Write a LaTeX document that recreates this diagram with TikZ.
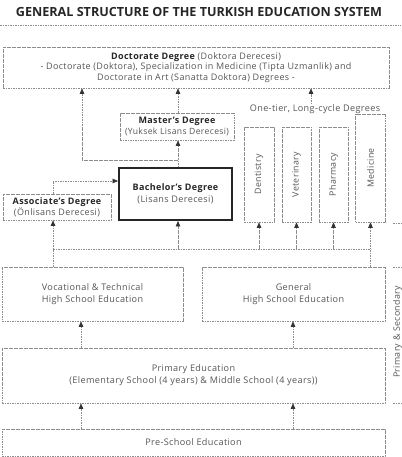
\documentclass[tikz,border=0pt]{standalone}
\usepackage{fontspec}
\usepackage{graphicx}
\setmainfont{Open Sans}[LetterSpace=4]
\usetikzlibrary{arrows.meta}
\definecolor{ln}{HTML}{8C8C8C}
\definecolor{tx}{HTML}{555555}
\newcommand{\hdtext}[1]{{\fontsize{9}{11}\bfseries\selectfont\color{black!85}#1}}
\tikzset{
 box/.style={draw=ln, dash pattern=on 1.6pt off 0.9pt, line width=0.6pt, inner sep=0pt, text=tx, align=center, font=\fontsize{9.1}{12}\selectfont},
 thickbox/.style={draw=black!85, line width=1.8pt, inner sep=0pt, text=tx, align=center, font=\fontsize{9.1}{12}\selectfont},
 con/.style={draw=ln, dash pattern=on 1.6pt off 0.9pt, line width=0.6pt},
 arr/.style={con, -{Triangle[width=4.5pt,length=5.5pt,color=black!80]}},
 plain/.style={text=tx, inner sep=0pt, font=\fontsize{9.1}{12}\selectfont},
}
\begin{document}
\begin{tikzpicture}[x=1pt,y=-1pt]
\useasboundingbox (0,0) rectangle (401,457);
\node[inner sep=0pt, font=\addfontfeatures{LetterSpace=0}\fontsize{12.6}{14}\bfseries\selectfont, text=black!85] (title) at (199,12) {GENERAL STRUCTURE OF THE TURKISH EDUCATION SYSTEM};
\coordinate (tl) at (0,25);
\coordinate (tr) at (401,25);
\draw[con] (tl) -- (tr);

\node[box, minimum width=386pt, minimum height=41pt, font=\fontsize{9}{10.5}\selectfont] (doc) at (196,67.5)
 {\hdtext{Doctorate Degree} (Doktora Derecesi)\\
  - Doctorate (Doktora), Specialization in Medicine (Tipta Uzmanlik) and\\
  Doctorate in Art (Sanatta Doktora) Degrees -};
\node[box, minimum width=114pt, minimum height=27pt, font=\fontsize{8.6}{10.5}\selectfont] (mas) at (177,126.5)
 {\hdtext{Master's Degree}\\(Yuksek Lisans Derecesi)};
\node[thickbox, minimum width=113pt, minimum height=52pt] (bach) at (175.5,194)
 {\hdtext{Bachelor's Degree}\\(Lisans Derecesi)};
\node[box, minimum width=108pt, minimum height=26pt, font=\fontsize{9}{11}\selectfont] (assoc) at (57,207)
 {\hdtext{Associate's Degree}\\(Önlisans Derecesi)};

\node[plain] (one) at (315,109) {One-tier, Long-cycle Degrees};
\node[box, minimum width=30pt, minimum height=95pt, font=\fontsize{8.8}{11}\selectfont] (dent) at (259,174.5) {\rotatebox{90}{Dentistry}};
\node[box, minimum width=29pt, minimum height=95pt, font=\fontsize{8.8}{11}\selectfont] (vet) at (296.5,174.5) {\rotatebox{90}{Veterinary}};
\node[box, minimum width=29pt, minimum height=95pt, font=\fontsize{8.8}{11}\selectfont] (pha) at (333.5,174.5) {\rotatebox{90}{Pharmacy}};
\node[box, minimum width=30pt, minimum height=108pt, font=\fontsize{8.8}{11}\selectfont] (med) at (370.5,168) {\rotatebox{90}{Medicine}};

\node[box, minimum width=181pt, minimum height=54pt] (voc) at (92.5,294)
 {Vocational \& Technical\\High School Education};
\node[box, minimum width=183pt, minimum height=54pt] (gen) at (293.5,294)
 {General\\High School Education};
\node[box, minimum width=383pt, minimum height=55pt] (prim) at (193.5,375.5)
 {Primary Education\\(Elementary School (4 years) \& Middle School (4 years))};
\node[box, minimum width=383pt, minimum height=27pt] (pre) at (193.5,442.5)
 {Pre-School Education};

\node[plain, rotate=90, font=\fontsize{8.8}{11}\selectfont] (ps) at (397.5,332) {Primary \& Secondary};

% coordinates
\coordinate (xa) at (53,249);
\coordinate (xb) at (178,249);
\coordinate (xl) at (81,0);
\coordinate (xr) at (293,0);
\coordinate (cab) at (53,181);
\coordinate (cbr) at (82,160);
\coordinate (xo) at (311,0);

% bus
\draw[con] (xa) -- (med.south |- xa);
\draw[arr] (voc.north -| xa) -- (assoc.south -| xa);
\draw[arr] (gen.north -| med.south) -- (med.south);
\draw[arr] (xb) -- (bach.south -| xb);
\draw[arr] (dent.south |- xa) -- (dent.south);
\draw[arr] (vet.south |- xa) -- (vet.south);
\draw[arr] (pha.south |- xa) -- (pha.south);

% lower arrows
\draw[arr] (prim.north -| xl) -- (voc.south -| xl);
\draw[arr] (prim.north -| xr) -- (gen.south -| xr);
\draw[arr] (pre.north -| xl) -- (prim.south -| xl);
\draw[arr] (pre.north -| xr) -- (prim.south -| xr);

% upper arrows
\draw[arr] (assoc.north -| cab) -- (cab) -- (bach.west |- cab);
\draw[arr] (bach.north -| xb) -- (mas.south -| xb);
\draw[arr] (cbr -| xb) -- (cbr) -- (doc.south -| cbr);
\draw[arr] (mas.north -| xb) -- (doc.south -| xb);
\draw[arr] (one.north -| xo) -- (doc.south -| xo);

% right edge fragments
\coordinate (r1a) at (393,223); \coordinate (r1b) at (401,223);
\coordinate (r2a) at (393,267); \coordinate (r2b) at (401,267);
\coordinate (r3a) at (393,403); \coordinate (r3b) at (401,403);
\draw[con] (r1a) -- (r1b);
\draw[con] (r2a) -- (r2b);
\draw[con] (r3a) -- (r3b);
\end{tikzpicture}
\end{document}
